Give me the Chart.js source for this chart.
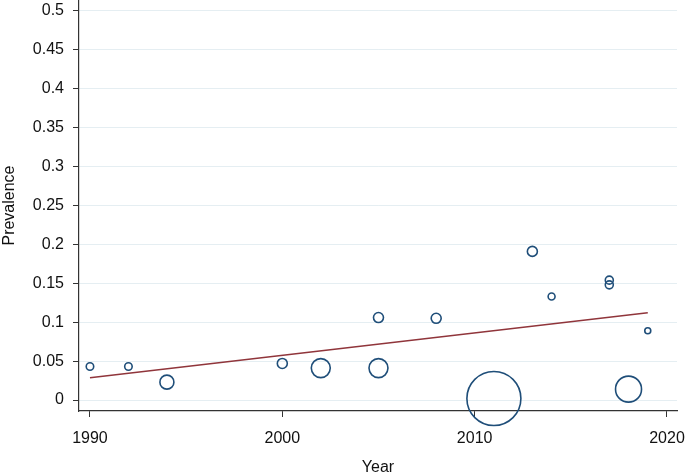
<!DOCTYPE html>
<html lang="en">
<head>
<meta charset="UTF-8">
<title>Prevalence by year</title>
<style>
  body { margin: 0; background: #fff; }
</style>
</head>
<body>
<canvas id="micanvas" width="685" height="475"></canvas>
<script src="https://cdn.jsdelivr.net/npm/chart.js@4.4.1/dist/chart.umd.min.js"></script>
<script>
// study year, prevalence, study weight (drawn as circle area)
const years = [1990, 1992, 1994, 2000, 2002, 2005, 2005, 2008, 2011, 2013, 2014, 2017, 2017, 2018, 2019];
const prevalence = [0.043, 0.043, 0.023, 0.047, 0.041, 0.041, 0.106, 0.105, 0.002, 0.191, 0.133, 0.154, 0.148, 0.014, 0.089];
const weights = [14, 14, 49, 25, 90, 90, 25, 25, 729, 25, 12, 16, 16, 169, 9];

// fitted line end points
const fitYears = [1990, 2019];
const fitValues = [0.0285, 0.112];

const xTicks = [1990, 2000, 2010, 2020];
const yTicks = [0, 0.05, 0.1, 0.15, 0.2, 0.25, 0.3, 0.35, 0.4, 0.45, 0.5];

Chart.defaults.font.family = "'Liberation Sans', Arial, sans-serif";
Chart.defaults.font.size = 16;
Chart.defaults.color = '#111';

// big bubbles should not push the plot area inwards
Chart.registry.getController('bubble').prototype.getMaxOverflow = function () { return 0; };

// no extra room for labels hanging past the axis ends
function noPad(s) {
    s.paddingLeft = 0; s.paddingRight = 0; s.paddingTop = 0; s.paddingBottom = 0;
}

const bubbles = years.map((yr, i) => ({ x: yr, y: prevalence[i], r: Math.sqrt(weights[i]) }));
const fit = fitYears.map((yr, i) => ({ x: yr, y: fitValues[i] }));

var ctx = document.getElementById('micanvas').getContext('2d');
var chart = new Chart(ctx, {
    type: 'bubble',
    data: {
        datasets: [{
            type: 'line',
            data: fit,
            borderColor: '#90353b',
            borderWidth: 1.5,
            pointRadius: 0,
            fill: false,
            order: 0
        }, {
            data: bubbles,
            backgroundColor: 'rgba(0,0,0,0)',
            borderColor: '#1f4e79',
            borderWidth: 1.6,
            hoverRadius: 0,
            clip: false,
            order: 1
        }]
    },
    options: {
        responsive: false,
        animation: false,
        layout: { padding: { left: 0, right: 8, top: 0, bottom: 0 } },
        plugins: { legend: { display: false }, tooltip: { enabled: false } },
        scales: {
            x: {
                type: 'linear',
                min: 1989.43,
                max: 2020.52,
                afterBuildTicks: s => { s.ticks = xTicks.map(v => ({ value: v })); },
                afterFit: s => { s.height = 64; noPad(s); },
                grid: { drawOnChartArea: false, drawTicks: true, tickLength: 6, tickColor: '#333' },
                border: { color: '#333', width: 1.2 },
                ticks: { padding: 12, callback: v => String(v) },
                title: { display: true, text: 'Year', padding: { top: 0, bottom: -2 } }
            },
            y: {
                min: -0.0141,
                max: 0.514,
                afterBuildTicks: s => { s.ticks = yTicks.map(v => ({ value: v })); },
                afterFit: s => { s.width = 79; noPad(s); },
                grid: { color: '#e5eef2', lineWidth: 1, tickLength: 6, tickColor: '#333' },
                border: { color: '#333', width: 1.2 },
                ticks: { padding: 9, callback: v => String(v) },
                title: { display: true, text: 'Prevalence', padding: { top: 0, bottom: 0 } }
            }
        }
    }
});
</script>
</body>
</html>
